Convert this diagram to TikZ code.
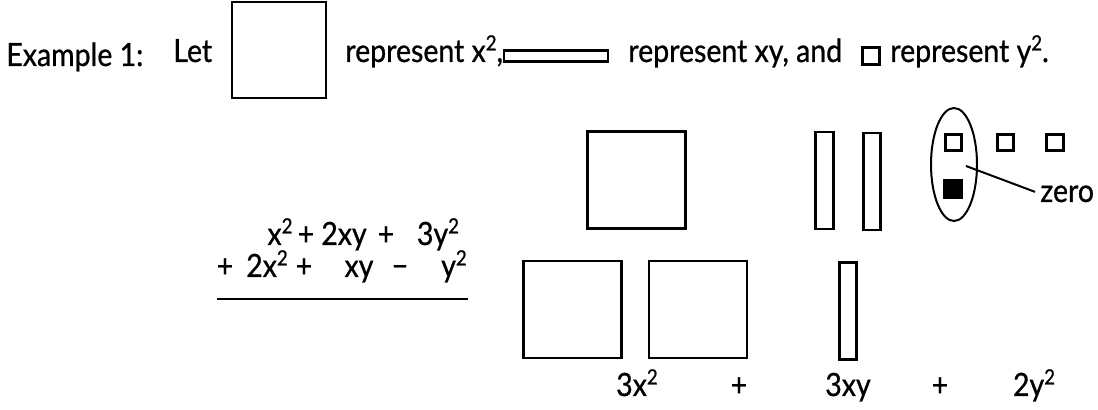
\documentclass[tikz,border=0pt]{standalone}
\usepackage{fontspec}
\setmainfont{Lato}[FakeStretch=0.89,FakeBold=0.8]
\usetikzlibrary{shapes.geometric}
\newcommand\pw[1]{\raisebox{0.36em}{\fontsize{10.5}{10.5}\selectfont #1}}
\begin{document}
\begin{tikzpicture}[x=0.5pt,y=-0.5pt,
  txt/.style={inner sep=0pt, anchor=base west, font=\fontsize{16}{19}\selectfont},
  txtc/.style={txt, anchor=base},
  tile/.style={draw, line width=1.4pt, inner sep=0pt, minimum width=#1},
  sqx/.style={tile=49pt, minimum height=48.5pt},
  bar/.style={tile=8.8pt, minimum height=48.5pt},
  unit/.style={tile=8.2pt, minimum height=8.2pt},
  thinline/.style={line width=1pt}]
\useasboundingbox (0,0) rectangle (1098,410);
% top legend line
\node[txt] (ex) at (6,66) {Example 1:};
\node[txt] (let) at (173,62) {Let};
\node[tile=47pt, minimum height=48pt] (lx2) at (279,50) {};
\node[txt] (r1) at (345,62) {represent x\pw{2},};
\node[tile=52pt, minimum height=5.5pt] (lxy) at (556,56) {};
\node[txt] (r2) at (628,62) {represent xy, and};
\node[unit] (ly2) at (871,56) {};
\node[txt] (r3) at (890,62) {represent y\pw{2}.};
% addition problem
\node[txtc] (a1) at (280,245) {x\pw{2}};
\node[txtc] (a2) at (306,245) {+};
\node[txtc] (a3) at (344,245) {2xy};
\node[txtc] (a4) at (386,245) {+};
\node[txtc] (a5) at (438,245) {3y\pw{2}};
\node[txtc] (b1) at (225,277) {+};
\node[txtc] (b2) at (267,277) {2x\pw{2}};
\node[txtc] (b3) at (304,277) {+};
\node[txtc] (b4) at (359,277) {xy};
\node[txtc] (b5) at (400,277) {−};
\node[txtc] (b6) at (454,277) {y\pw{2}};
\coordinate (ruleL) at (217,299);
\coordinate (ruleR) at (468,299);
\draw[line width=1.3pt] (ruleL) -- (ruleR);
% first polynomial tiles
\node[sqx] (t1) at (636.5,180) {};
\node[bar] (t2) at (824.5,180.5) {};
\node[bar] (t3) at (872,181.5) {};
\node[thinline, draw, ellipse, inner sep=0pt, minimum width=23pt, minimum height=56.5pt] (zp) at (954,164.5) {};
\node[unit] (t4) at (953.5,142.5) {};
\node[unit] (t5) at (1005.5,142.5) {};
\node[unit] (t6) at (1055,142.5) {};
% second polynomial tiles
\node[unit, fill=black] (n1) at (953,189) {};
\node[sqx] (s1) at (572.5,309.5) {};
\node[sqx] (s2) at (698,309.5) {};
\node[bar] (s3) at (848,311) {};
% zero label
\node[txt] (zero) at (1040,202) {zero};
\coordinate (zs) at (966,166);
\draw[thinline] (zs) -- ([xshift=-2.5pt,yshift=1pt]zero.west);
% result
\node[txtc] (c1) at (637,396) {3x\pw{2}};
\node[txtc] (c2) at (739,396) {+};
\node[txtc] (c3) at (848,396) {3xy};
\node[txtc] (c4) at (940,396) {+};
\node[txtc] (c5) at (1034,396) {2y\pw{2}};
\end{tikzpicture}
\end{document}
